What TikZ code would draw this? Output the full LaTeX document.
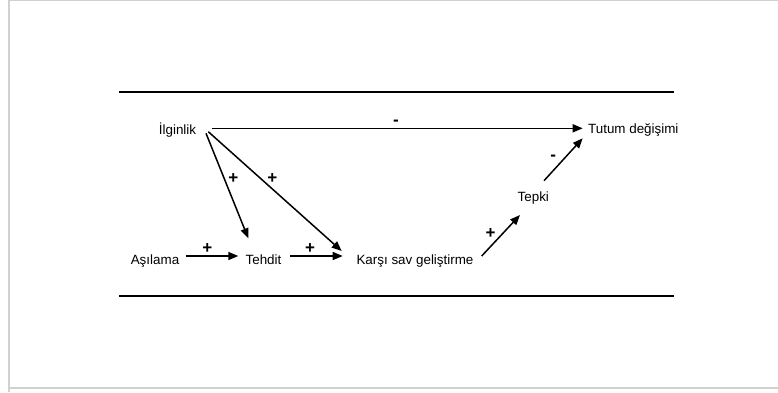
\documentclass[tikz,border=0pt]{standalone}
\usepackage{fontspec}
\setmainfont{Liberation Sans}
\usetikzlibrary{arrows.meta}
\begin{document}
\begin{tikzpicture}[x=1pt,y=-1pt,
  every node/.style={font=\fontsize{13.4}{15}\selectfont},
  txt/.style={inner sep=0pt, anchor=base},
  arr/.style={line width=1.5pt, -{Triangle[length=10pt,width=8pt]}},
  lbl/.style={inner sep=0pt, font=\bfseries\fontsize{17}{18}\selectfont},
  rule/.style={line width=1.6pt},
  frame/.style={draw=black!18, line width=1.2pt}]
\useasboundingbox (0,0) rectangle (778,392);
\draw[frame] (9,392) -- (9,0.6) -- (778,0.6);
\draw[frame] (9,388) -- (778,388);
\draw[rule] (119,92) -- (674,92);
\draw[rule] (119,296) -- (674,296);
% nodes
\node[txt] (ilg) at (177.5,134) {İlginlik};
\node[txt] (tutum) at (633.3,133.5) {Tutum değişimi};
\node[txt] (asi) at (155,264.5) {Aşılama};
\node[txt] (teh) at (263.5,264.5) {Tehdit};
\node[txt] (kar) at (415,264.5) {Karşı sav geliştirme};
\node[txt] (tep) at (533.3,201.5) {Tepki};
% connectors
\draw[arr] ([shift={(34.2,-5.7)}]ilg.base) -- ([shift={(-50.6,-5.2)}]tutum.base);
\draw[arr] ([shift={(28.5,-0.7)}]ilg.base) -- ([shift={(-15.2,-26.2)}]teh.base);
\draw[arr] ([shift={(30.8,-2.3)}]ilg.base) -- ([shift={(-73.3,-13.5)}]kar.base);
\draw[arr] ([shift={(30.7,-8.5)}]asi.base) -- ([shift={(-25.2,-8.5)}]teh.base);
\draw[arr] ([shift={(26.5,-8.5)}]teh.base) -- ([shift={(-72.3,-8.5)}]kar.base);
\draw[arr] ([shift={(66.7,-8.5)}]kar.base) -- ([shift={(-13.3,13.5)}]tep.base);
\draw[arr] ([shift={(10.7,-20.8)}]tep.base) -- ([shift={(-50.6,4.8)}]tutum.base);
% signs
\node[lbl] (s1) at (396,123) {-};
\node[lbl] (s2) at (233.3,178.3) {+};
\node[lbl] (s3) at (272.3,178.3) {+};
\node[lbl] (s4) at (207.3,249) {+};
\node[lbl] (s5) at (310,249) {+};
\node[lbl] (s6) at (490.7,233.3) {+};
\node[lbl] (s7) at (553.3,157.3) {-};
\end{tikzpicture}
\end{document}
